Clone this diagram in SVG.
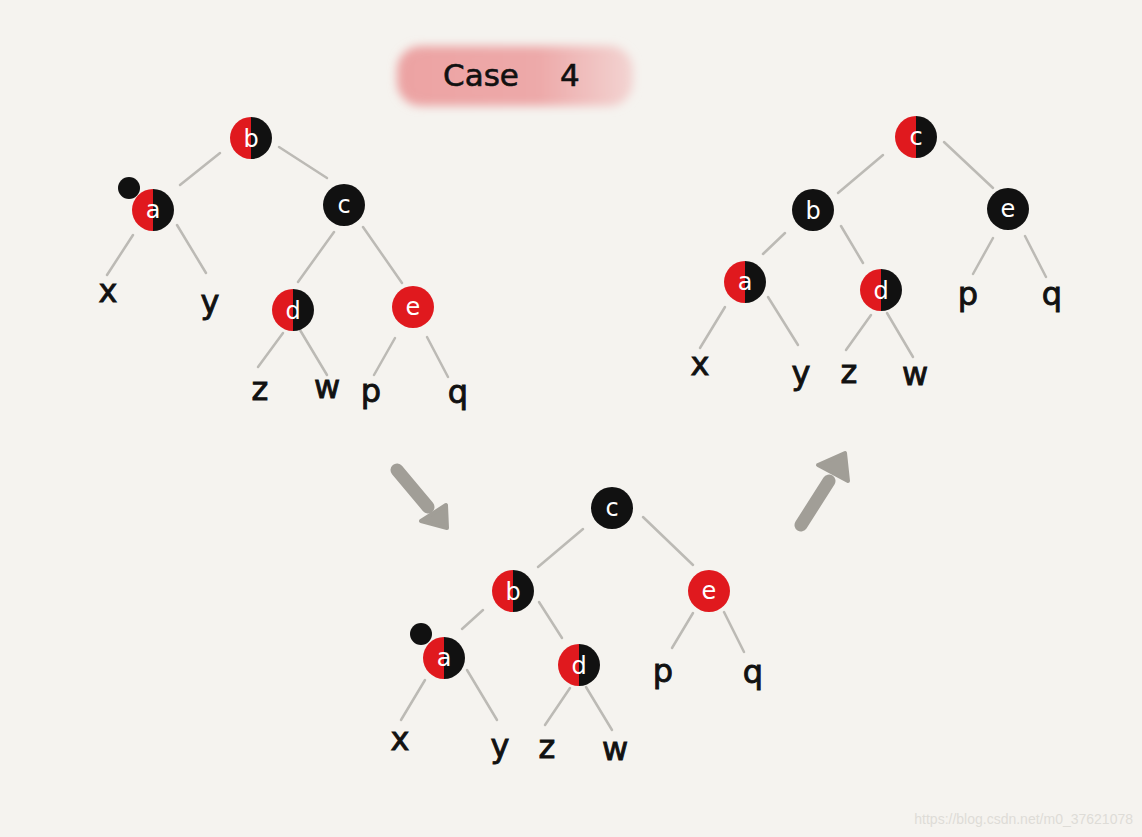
<svg xmlns="http://www.w3.org/2000/svg" width="1142" height="837" viewBox="0 0 1142 837">
<style>
.edge{stroke:#bcbab5;stroke-width:2.5;stroke-linecap:round;fill:none}
.nl{fill:#ffffff;font-family:"DejaVu Sans",sans-serif;font-size:24px;text-anchor:middle}
.leaf{fill:#111111;stroke:#111111;stroke-width:0.9;font-family:"DejaVu Sans",sans-serif;font-size:32px;text-anchor:middle}
.arrow{stroke:#a19e97;stroke-width:13;stroke-linecap:round;fill:none}
.ahead{fill:#a19e97;stroke:#a19e97;stroke-width:4;stroke-linejoin:round}
</style>
<defs>
<filter id="blur" x="-20%" y="-50%" width="140%" height="200%"><feGaussianBlur stdDeviation="5"/></filter>
<linearGradient id="pink" x1="0" y1="0" x2="1" y2="0">
<stop offset="0" stop-color="#eca3a3"/><stop offset="0.6" stop-color="#eda9a9"/><stop offset="1" stop-color="#f3d4d2"/>
</linearGradient>
<g id="half"><path d="M0,-21 A21,21 0 0 0 0,21 Z" fill="#e0191e"/><path d="M0,-21 A21,21 0 0 1 0,21 Z" fill="#111111"/></g>
<circle id="red" r="21" fill="#e0191e"/>
<circle id="blk" r="21" fill="#111111"/>
</defs>
<rect width="1142" height="837" fill="#f5f3ef"/>

<g id="title">
<rect x="397" y="46" width="236" height="60" rx="24" fill="url(#pink)" filter="url(#blur)"/>
<text font-family="DejaVu Sans,sans-serif" font-size="31" fill="#111" stroke="#111" stroke-width="0.6"><tspan x="443" y="86">Case</tspan><tspan x="560" y="86">4</tspan></text>
</g>

<g id="connectors">
<!-- left tree -->
<line class="edge" x1="180" y1="185" x2="220" y2="153"/>
<line class="edge" x1="279" y1="147" x2="327" y2="178"/>
<line class="edge" x1="133" y1="235" x2="107" y2="275"/>
<line class="edge" x1="177" y1="225" x2="206" y2="273"/>
<line class="edge" x1="334" y1="232" x2="298" y2="282"/>
<line class="edge" x1="363" y1="227" x2="402" y2="283"/>
<line class="edge" x1="283" y1="333" x2="258" y2="367"/>
<line class="edge" x1="300" y1="330" x2="327" y2="375"/>
<line class="edge" x1="395" y1="338" x2="374" y2="375"/>
<line class="edge" x1="427" y1="337" x2="448" y2="377"/>
<!-- right tree -->
<line class="edge" x1="883" y1="155" x2="838" y2="193"/>
<line class="edge" x1="944" y1="142" x2="993" y2="188"/>
<line class="edge" x1="785" y1="233" x2="763" y2="254"/>
<line class="edge" x1="841" y1="226" x2="863" y2="263"/>
<line class="edge" x1="993" y1="238" x2="973" y2="274"/>
<line class="edge" x1="1025" y1="236" x2="1046" y2="277"/>
<line class="edge" x1="725" y1="307" x2="700" y2="348"/>
<line class="edge" x1="768" y1="297" x2="798" y2="345"/>
<line class="edge" x1="871" y1="315" x2="846" y2="350"/>
<line class="edge" x1="887" y1="313" x2="913" y2="357"/>
<!-- bottom tree -->
<line class="edge" x1="583" y1="529" x2="538" y2="567"/>
<line class="edge" x1="643" y1="517" x2="693" y2="565"/>
<line class="edge" x1="483" y1="610" x2="462" y2="629"/>
<line class="edge" x1="539" y1="602" x2="562" y2="638"/>
<line class="edge" x1="693" y1="613" x2="672" y2="648"/>
<line class="edge" x1="724" y1="612" x2="744" y2="652"/>
<line class="edge" x1="425" y1="680" x2="401" y2="720"/>
<line class="edge" x1="467" y1="670" x2="497" y2="720"/>
<line class="edge" x1="570" y1="688" x2="545" y2="725"/>
<line class="edge" x1="586" y1="687" x2="612" y2="730"/>
<!-- transition arrows -->
<line class="arrow" x1="397" y1="470" x2="428" y2="507"/>
<polygon class="ahead" points="421,521 446,505 447,528"/>
<line class="arrow" x1="801" y1="525" x2="829" y2="481"/>
<polygon class="ahead" points="818,465 845,453 848,481"/>
</g>

<!-- left tree nodes -->
<g id="L-b"><use href="#half" x="251" y="138"/><text class="nl" x="251" y="147">b</text></g>
<g id="L-a"><circle cx="129" cy="188" r="11" fill="#111"/><use href="#half" x="153" y="210"/><text class="nl" x="153" y="218">a</text></g>
<g id="L-c"><use href="#blk" x="344" y="205"/><text class="nl" x="344" y="213">c</text></g>
<g id="L-d"><use href="#half" x="293" y="310"/><text class="nl" x="293" y="319">d</text></g>
<g id="L-e"><use href="#red" x="413" y="307"/><text class="nl" x="413" y="315">e</text></g>
<g id="L-x"><text class="leaf" x="108" y="302">x</text></g>
<g id="L-y"><text class="leaf" x="210" y="313">y</text></g>
<g id="L-z"><text class="leaf" x="260" y="400">z</text></g>
<g id="L-w"><text class="leaf" x="327" y="398">w</text></g>
<g id="L-p"><text class="leaf" x="371" y="402">p</text></g>
<g id="L-q"><text class="leaf" x="458" y="403">q</text></g>

<!-- right tree nodes -->
<g id="R-c"><use href="#half" x="916" y="137"/><text class="nl" x="916" y="145">c</text></g>
<g id="R-b"><use href="#blk" x="813" y="210"/><text class="nl" x="813" y="219">b</text></g>
<g id="R-e"><use href="#blk" x="1008" y="209"/><text class="nl" x="1008" y="217">e</text></g>
<g id="R-a"><use href="#half" x="745" y="282"/><text class="nl" x="745" y="290">a</text></g>
<g id="R-d"><use href="#half" x="881" y="290"/><text class="nl" x="881" y="299">d</text></g>
<g id="R-p"><text class="leaf" x="968" y="305">p</text></g>
<g id="R-q"><text class="leaf" x="1052" y="305">q</text></g>
<g id="R-x"><text class="leaf" x="700" y="375">x</text></g>
<g id="R-y"><text class="leaf" x="801" y="384">y</text></g>
<g id="R-z"><text class="leaf" x="849" y="383">z</text></g>
<g id="R-w"><text class="leaf" x="915" y="385">w</text></g>

<!-- bottom tree nodes -->
<g id="B-c"><use href="#blk" x="612" y="508"/><text class="nl" x="612" y="516">c</text></g>
<g id="B-b"><use href="#half" x="513" y="591"/><text class="nl" x="513" y="600">b</text></g>
<g id="B-e"><use href="#red" x="709" y="591"/><text class="nl" x="709" y="599">e</text></g>
<g id="B-a"><circle cx="421" cy="634" r="11" fill="#111"/><use href="#half" x="444" y="658"/><text class="nl" x="444" y="666">a</text></g>
<g id="B-d"><use href="#half" x="579" y="665"/><text class="nl" x="579" y="674">d</text></g>
<g id="B-p"><text class="leaf" x="663" y="682">p</text></g>
<g id="B-q"><text class="leaf" x="753" y="683">q</text></g>
<g id="B-x"><text class="leaf" x="400" y="750">x</text></g>
<g id="B-y"><text class="leaf" x="500" y="757">y</text></g>
<g id="B-z"><text class="leaf" x="547" y="758">z</text></g>
<g id="B-w"><text class="leaf" x="615" y="760">w</text></g>

<text x="1133" y="824" text-anchor="end" font-family="Liberation Sans,sans-serif" font-size="14" fill="#dedcd7">https://blog.csdn.net/m0_37621078</text>
</svg>
